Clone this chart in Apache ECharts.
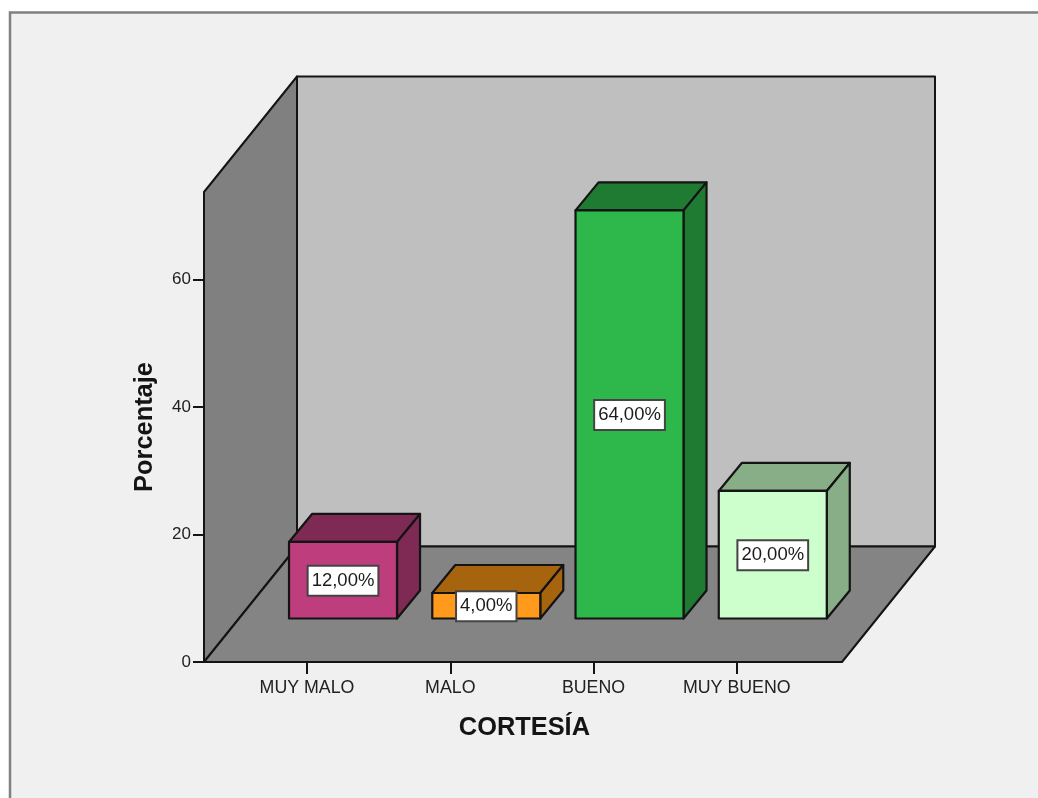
<!DOCTYPE html>
<html>
<head>
<meta charset="utf-8">
<style>html,body{margin:0;padding:0;background:#fff;overflow:hidden}#c{width:1038px;height:798px}</style>
<script src="https://cdn.jsdelivr.net/npm/echarts@6/dist/echarts.min.js"></script>
</head>
<body>
<div id="c"></div>
<script>
const categories = ['MUY MALO', 'MALO', 'BUENO', 'MUY BUENO'];
const percentages = [12, 4, 64, 20];
const frontColors = ['#BE3D7C', '#FF9A1C', '#2EB84B', '#CCFFCC'];
const darkColors = ['#7F2A54', '#A6640F', '#1F7A32', '#88AE88'];
const yTicks = [0, 20, 40, 60];
const yTop = 73.7;

const FONT = '"Liberation Sans", Arial, sans-serif';
const INK = '#141414';
const DX = 23, DY = -28;            // depth of the box
const WALL_DX = 93, WALL_DY = -115.5; // depth of the room
const INSET_L = 31.4, INSET_R = 33.6; // category bands sit inside the floor's front edge
const BAR_SHIFT_X = 36, BAR_SHIFT_Y = -43.5, BAR_W = 108;

function poly(points, fill, width) {
  return { type: 'polygon', shape: { points },
    style: { fill, stroke: INK, lineWidth: width, lineJoin: 'round' } };
}

function renderRoom(params, api) {
  const cs = params.coordSys;
  const x0 = cs.x - INSET_L, x1 = cs.x + cs.width + INSET_R;
  const yb = cs.y + cs.height, yt = cs.y;
  return { type: 'group', children: [
    poly([[x0 + WALL_DX, yt + WALL_DY], [x1 + WALL_DX, yt + WALL_DY], [x1 + WALL_DX, yb + WALL_DY], [x0 + WALL_DX, yb + WALL_DY]], '#BFBFBF', 2),
    poly([[x0, yb], [x0, yt], [x0 + WALL_DX, yt + WALL_DY], [x0 + WALL_DX, yb + WALL_DY]], '#808080', 2),
    poly([[x0, yb], [x1, yb], [x1 + WALL_DX, yb + WALL_DY], [x0 + WALL_DX, yb + WALL_DY]], '#848484', 2)
  ]};
}

function renderBar(params, api) {
  const i = api.value(0), v = api.value(1);
  const base = api.coord([i, 0]), top = api.coord([i, v]);
  const l = base[0] + BAR_SHIFT_X - BAR_W / 2, r = l + BAR_W;
  const b = base[1] + BAR_SHIFT_Y, t = top[1] + BAR_SHIFT_Y;
  const front = frontColors[i], dark = darkColors[i];
  return { type: 'group', children: [
    poly([[l, t], [r, t], [r + DX, t + DY], [l + DX, t + DY]], dark, 2.2),
    poly([[r, t], [r + DX, t + DY], [r + DX, b + DY], [r, b]], dark, 2.2),
    poly([[l, t], [r, t], [r, b], [l, b]], front, 2.2),
    { type: 'text', x: (l + r) / 2, y: (t + b) / 2 + 0.5,
      style: { text: v.toFixed(2).replace('.', ',') + '%', font: '18.5px ' + FONT, fill: '#1c1c1c',
        align: 'center', verticalAlign: 'middle',
        backgroundColor: '#fff', borderColor: '#444', borderWidth: 2,
        padding: [5, 3, 4, 3] } }
  ]};
}

const chart = echarts.init(document.getElementById('c'), null, { renderer: 'canvas' });
chart.setOption({
  animation: false,
  backgroundColor: '#fff',
  graphic: [{ type: 'rect', z: -10, silent: true,
    shape: { x: 10, y: 12.5, width: 1100, height: 900 },
    style: { fill: '#F0F0F0', stroke: '#808080', lineWidth: 2.5 } }],
  grid: { left: 235.4, width: 573, top: 192, height: 470, containLabel: false },
  xAxis: {
    type: 'category', data: categories,
    name: 'CORTESÍA', nameLocation: 'middle', nameGap: 53,
    nameTextStyle: { fontFamily: FONT, fontWeight: 'bold', fontSize: 25.4, color: '#141414', padding: [0, 0, 0, 5] },
    axisLine: { show: false },
    axisTick: { show: true, alignWithLabel: true, length: 12, lineStyle: { color: INK, width: 2 } },
    axisLabel: { fontFamily: FONT, fontSize: 17.8, color: '#222', margin: 17, interval: 0 }
  },
  yAxis: {
    type: 'value', min: 0, max: yTop, offset: INSET_L,
    name: 'Porcentaje', nameLocation: 'middle', nameGap: 47, nameRotate: 90,
    nameTextStyle: { fontFamily: FONT, fontWeight: 'bold', fontSize: 25.4, color: '#141414' },
    axisLine: { show: false },
    axisTick: { show: true, length: 11, customValues: yTicks, lineStyle: { color: INK, width: 2 } },
    axisLabel: { fontFamily: FONT, fontSize: 17, color: '#222', margin: 13, customValues: yTicks, padding: [5, 0, 0, 0] },
    splitLine: { show: false }
  },
  series: [
    { type: 'custom', name: 'room', data: [[0, 0]], renderItem: renderRoom, z: 1, silent: true, clip: false },
    { type: 'custom', name: 'Porcentaje', data: percentages.map((v, i) => [i, v]),
      encode: { x: 0, y: 1 }, renderItem: renderBar, z: 3, clip: false }
  ]
});
</script>
</body>
</html>
